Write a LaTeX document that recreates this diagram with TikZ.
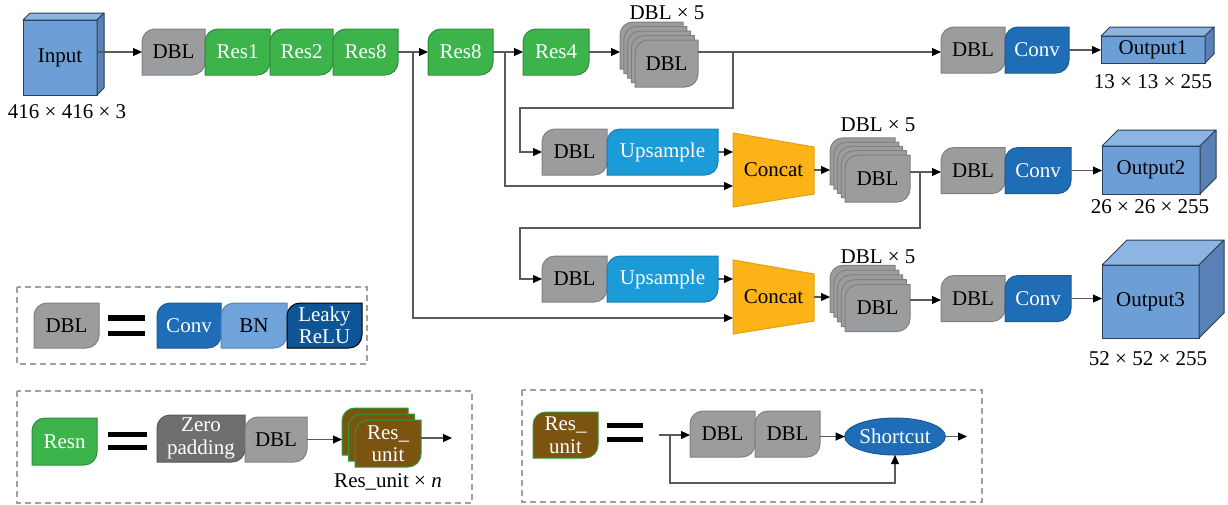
\documentclass[tikz,border=0pt]{standalone}
\usepackage{fontspec}
\setmainfont{Liberation Serif}
\usetikzlibrary{arrows.meta,shapes.geometric,calc}
\pgfdeclarelayer{background}
\pgfsetlayers{background,main}
\definecolor{dblgray}{HTML}{9B9C9E}
\definecolor{dblline}{HTML}{7E8083}
\definecolor{zpgray}{HTML}{6D6E70}
\definecolor{zpline}{HTML}{58595B}
\definecolor{resgreen}{HTML}{3CB44B}
\definecolor{resline}{HTML}{2B8F3A}
\definecolor{convblue}{HTML}{1F6DB6}
\definecolor{convline}{HTML}{1A5A99}
\definecolor{upblue}{HTML}{1B9BD7}
\definecolor{upline}{HTML}{1A7FB0}
\definecolor{bnblue}{HTML}{6FA3D9}
\definecolor{bnline}{HTML}{4F86C0}
\definecolor{leakyblue}{HTML}{0F5595}
\definecolor{concatorange}{HTML}{FBB317}
\definecolor{concatline}{HTML}{E3A10C}
\definecolor{cubefront}{HTML}{6D9FD6}
\definecolor{cubetop}{HTML}{8DB5E2}
\definecolor{cubeside}{HTML}{5981B5}
\definecolor{cubeline}{HTML}{2C3E57}
\definecolor{brown}{HTML}{7B5410}
\definecolor{brownline}{HTML}{2E9A3A}
\definecolor{linec}{HTML}{5A5A5A}
\definecolor{dashc}{HTML}{A0A0A0}
\def\leafr{13pt}
\newcommand\leafsh[4][0,0]{%
  \filldraw[fill=#3,draw=#4,line width=1pt]
  ([shift={(#1)}]#2.south west) -- ([shift={(#1)},yshift=-\leafr]#2.north west)
  arc[start angle=180,end angle=90,radius=\leafr]
  -- ([shift={(#1)}]#2.north east) -- ([shift={(#1)},yshift=\leafr]#2.south east)
  arc[start angle=0,end angle=-90,radius=\leafr] -- cycle;}
\newcommand\cubefaces[2]{%
  \filldraw[fill=cubetop,draw=cubeline,line width=1pt,line join=round]
    (#1.north west) -- ++(#2,#2) -- ([shift={(#2,#2)}]#1.north east) -- (#1.north east) -- cycle;
  \filldraw[fill=cubeside,draw=cubeline,line width=1pt,line join=round]
    (#1.north east) -- ++(#2,#2) -- ([shift={(#2,#2)}]#1.south east) -- (#1.south east) -- cycle;}
\newcommand\trap[1]{%
  \filldraw[fill=concatorange,draw=concatline,line width=1pt]
    (#1.north west) -- ([yshift=-14pt]#1.north east) -- ([yshift=13pt]#1.south east) -- (#1.south west) -- cycle;}
\begin{document}
\begin{tikzpicture}[x=1pt,y=1pt,
  font=\fontsize{21}{22.5}\selectfont,
  blk/.style={minimum height=46pt,inner sep=0pt,outer sep=0pt,align=center,text=black},
  wt/.style={text=white},
  cube/.style={fill=cubefront,draw=cubeline,line width=1pt,inner sep=0pt,outer sep=0pt},
  conn/.style={draw=linec,line width=1.1pt},
  arr/.style={conn,-{Triangle[length=9pt,width=8pt,color=black]}},
  lbl/.style={inner sep=0pt},
  dbox/.style={draw=dashc,line width=1.3pt,dash pattern=on 6pt off 4pt},
  bar/.style={fill=black}]
\useasboundingbox (0,0) rectangle (1228,-504);

% ---------- main row ----------
\node[cube,minimum width=74pt,minimum height=75pt] (in) at (60,-57.5) {Input};
\cubefaces{in}{7}
\node[lbl] (inlab) at (67,-112) {416 × 416 × 3};

\node[blk,minimum width=63pt] (dbl0) at (173.5,-52) {DBL};
\node[blk,wt,minimum width=65pt] (res1) at (237.5,-52) {Res1};
\node[blk,wt,minimum width=63pt] (res2) at (301.5,-52) {Res2};
\node[blk,wt,minimum width=65pt] (res8a) at (365.5,-52) {Res8};
\node[blk,wt,minimum width=65pt] (res8b) at (460.5,-52) {Res8};
\node[blk,wt,minimum width=66pt] (res4) at (556,-52) {Res4};
\node[blk,minimum width=63pt,minimum height=47pt] (s1) at (666.5,-63.5) {DBL};
\node[lbl] (s1lab) at (667,-13) {DBL × 5};
\node[blk,minimum width=64pt] (dbl1) at (973,-50) {DBL};
\node[blk,wt,minimum width=64pt] (conv1) at (1037,-50) {Conv};
\node[cube,minimum width=104pt,minimum height=27pt] (out1) at (1153,-49.5) {Output1};
\cubefaces{out1}{9}
\node[lbl] (out1lab) at (1153,-82) {13 × 13 × 255};

% ---------- row 2 ----------
\node[blk,minimum width=65pt] (dbl2) at (574.5,-152) {DBL};
\node[blk,wt,minimum width=111pt] (up2) at (662.5,-152) {Upsample};
\node[blk,minimum width=81pt,minimum height=74pt] (cc2) at (773.5,-170) {Concat};
\node[blk,minimum width=65pt,minimum height=47pt] (s2) at (877.5,-178.5) {DBL};
\node[lbl] (s2lab) at (878,-125) {DBL × 5};
\node[blk,minimum width=64pt] (dbl2r) at (973,-170.5) {DBL};
\node[blk,wt,minimum width=66pt] (conv2) at (1038,-170.5) {Conv};
\node[cube,minimum width=98pt,minimum height=48pt] (out2) at (1151,-170) {Output2};
\cubefaces{out2}{16}
\node[lbl] (out2lab) at (1150,-207) {26 × 26 × 255};

% ---------- row 3 ----------
\node[blk,minimum width=65pt] (dbl3) at (574.5,-279) {DBL};
\node[blk,wt,minimum width=111pt] (up3) at (662.5,-279) {Upsample};
\node[blk,minimum width=81pt,minimum height=74pt] (cc3) at (773.5,-297) {Concat};
\node[blk,minimum width=65pt,minimum height=47pt] (s3) at (877.5,-308) {DBL};
\node[lbl] (s3lab) at (878,-257) {DBL × 5};
\node[blk,minimum width=64pt] (dbl3r) at (973,-298.5) {DBL};
\node[blk,wt,minimum width=66pt] (conv3) at (1038,-298.5) {Conv};
\node[cube,minimum width=97pt,minimum height=73pt] (out3) at (1150.5,-301.5) {Output3};
\cubefaces{out3}{25}
\node[lbl] (out3lab) at (1148,-359) {52 × 52 × 255};

% ---------- legend 1 ----------
\draw[dbox] (17,-287) rectangle (367,-364);
\node[blk,minimum width=65pt,minimum height=45pt] (ldbl) at (66.5,-325.5) {DBL};
\fill[bar] (108,-315) rectangle (145,-321);
\fill[bar] (108,-331) rectangle (145,-336);
\node[blk,wt,minimum width=64pt,minimum height=45pt] (lconv) at (189,-325.5) {Conv};
\node[blk,minimum width=66pt,minimum height=45pt] (lbn) at (254,-325.5) {BN};
\node[blk,wt,minimum width=75pt,minimum height=45pt] (llr) at (324.5,-325.5) {Leaky\\ReLU};

% ---------- legend 2 ----------
\draw[dbox] (17,-391) rectangle (472,-503);
\node[blk,wt,minimum width=65pt,minimum height=47pt] (lres) at (64.5,-441.5) {Resn};
\fill[bar] (108,-432) rectangle (147,-437);
\fill[bar] (108,-445) rectangle (147,-450);
\node[blk,wt,minimum width=88pt,minimum height=47pt] (lzp) at (201,-438.5) {Zero\\padding};
\node[blk,minimum width=62pt,minimum height=45pt] (ldbl2) at (276,-439.5) {DBL};
\node[blk,wt,minimum width=66pt,minimum height=47pt] (lru) at (388,-443.5) {Res\_\\unit};
\node[lbl] (lrulab) at (388,-482) {Res\_unit × \textit{n}};
\coordinate (lrub) at ([xshift=-13pt]lru.west);
\coordinate (lend) at (452,-438);

% ---------- legend 3 ----------
\draw[dbox] (522,-390) rectangle (982,-502);
\node[blk,wt,minimum width=65pt,minimum height=46pt] (lru2) at (565.5,-435) {Res\_\\unit};
\fill[bar] (607,-423) rectangle (643,-428);
\fill[bar] (607,-437) rectangle (643,-442);
\coordinate (lstart) at (659,-435);
\coordinate (lbr) at (670,-435);
\node[blk,minimum width=65pt] (ld1) at (722.5,-434) {DBL};
\node[blk,minimum width=65pt] (ld2) at (787.5,-434) {DBL};
\node[ellipse,fill=convblue,draw=convline,line width=1pt,text=white,minimum width=96pt,minimum height=37pt,inner sep=0pt,outer sep=0pt] (sc) at (895,-436.5) {Shortcut};
\coordinate (scend) at (967,-436.5);
\coordinate (lbot) at (0,-483);

% ---------- shapes on background ----------
\begin{pgfonlayer}{background}
\leafsh{dbl0}{dblgray}{dblline}
\leafsh{res1}{resgreen}{resline}
\leafsh{res2}{resgreen}{resline}
\leafsh{res8a}{resgreen}{resline}
\leafsh{res8b}{resgreen}{resline}
\leafsh{res4}{resgreen}{resline}
\foreach \k in {4,3,2,1} {\leafsh[-3.75*\k,4.5*\k]{s1}{dblgray}{dblline}}
\leafsh{s1}{dblgray}{dblline}
\leafsh{dbl1}{dblgray}{dblline}
\leafsh{conv1}{convblue}{convline}
\leafsh{dbl2}{dblgray}{dblline}
\leafsh{up2}{upblue}{upline}
\trap{cc2}
\foreach \k in {4,3,2,1} {\leafsh[-3.75*\k,4.3*\k]{s2}{dblgray}{dblline}}
\leafsh{s2}{dblgray}{dblline}
\leafsh{dbl2r}{dblgray}{dblline}
\leafsh{conv2}{convblue}{convline}
\leafsh{dbl3}{dblgray}{dblline}
\leafsh{up3}{upblue}{upline}
\trap{cc3}
\foreach \k in {4,3,2,1} {\leafsh[-3.75*\k,4.8*\k]{s3}{dblgray}{dblline}}
\leafsh{s3}{dblgray}{dblline}
\leafsh{dbl3r}{dblgray}{dblline}
\leafsh{conv3}{convblue}{convline}
\leafsh{ldbl}{dblgray}{dblline}
\leafsh{lconv}{convblue}{convline}
\leafsh{lbn}{bnblue}{bnline}
\leafsh{llr}{leakyblue}{black}
\leafsh{lres}{resgreen}{resline}
\leafsh{lzp}{zpgray}{zpline}
\leafsh{ldbl2}{dblgray}{dblline}
\foreach \k in {2,1} {\leafsh[-6.5*\k,6*\k]{lru}{brown}{brownline}}
\leafsh{lru}{brown}{brownline}
\leafsh{lru2}{brown}{brownline}
\leafsh{ld1}{dblgray}{dblline}
\leafsh{ld2}{dblgray}{dblline}
\end{pgfonlayer}

% ---------- connectors ----------
\coordinate (s1b) at ([xshift=-15pt]s1.west);
\coordinate (s2b) at ([xshift=-15pt]s2.west);
\coordinate (s3b) at ([xshift=-15pt]s3.west);
\coordinate (b1) at (413,-52);
\coordinate (b2) at (505,-52);
\coordinate (b3) at (733,-52);
\coordinate (b4) at (920,-172);
\coordinate (k1) at (520,-108);
\coordinate (k2) at (520,-228);

\draw[arr] (in.east |- dbl0.west) -- (dbl0.west);
\draw[arr] (res8a.east) -- (res8b.west);
\draw[arr] (b1) |- ([yshift=-21pt]cc3.west);
\draw[arr] (res8b.east) -- (res4.west);
\draw[arr] (b2) |- ([yshift=-16pt]cc2.west);
\draw[arr] (res4.east) -- (res4.east -| s1b);
\draw[arr] ([yshift=11.5pt]s1.east) -- ([yshift=11.5pt]s1.east -| dbl1.west);
\draw[arr] (b3) |- (k1) |- (dbl2.west);
\draw[arr] (conv1.east) -- (conv1.east -| out1.west);

\draw[arr] (up2.east) -- (up2.east -| cc2.west);
\draw[arr] (cc2.east) -- (cc2.east -| s2b);
\draw[arr] ([yshift=6.5pt]s2.east) -- ([yshift=6.5pt]s2.east -| dbl2r.west);
\draw[arr] (b4) |- (k2) |- (dbl3.west);
\draw[arr] (conv2.east) -- (conv2.east -| out2.west);

\draw[arr] (up3.east) -- (up3.east -| cc3.west);
\draw[arr] (cc3.east) -- (cc3.east -| s3b);
\draw[arr] ([yshift=8pt]s3.east) -- ([yshift=8pt]s3.east -| dbl3r.west);
\draw[arr] (conv3.east) -- (conv3.east -| out3.west);

\draw[arr] (ldbl2.east) -- (ldbl2.east -| lrub);
\draw[arr] (lru.east |- lend) -- (lend);

\draw[arr] (lstart) -- (lstart -| ld1.west);
\draw[arr] (ld2.east |- sc.west) -- (sc.west);
\draw[arr] (sc.east) -- (scend);
\draw[arr] (lbr) |- (sc.south |- lbot) -- (sc.south);
\end{tikzpicture}
\end{document}
